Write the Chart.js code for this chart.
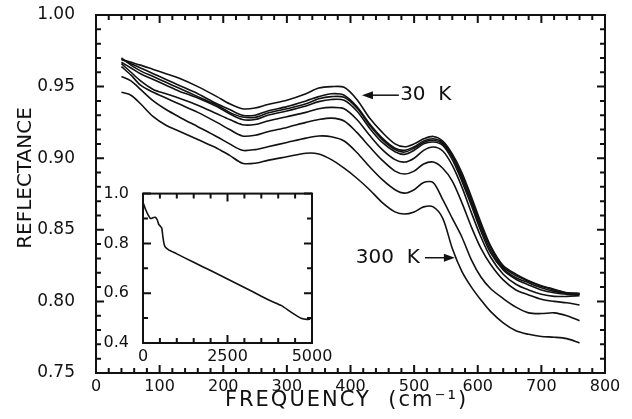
<!DOCTYPE html>
<html>
<head>
<meta charset="utf-8">
<script src="https://cdn.jsdelivr.net/npm/chart.js@4.4.1/dist/chart.umd.min.js"></script>
<style>
  html, body { margin: 0; padding: 0; background: #fff; }
  #wrap { position: relative; width: 632px; height: 419px; }
  #main { position: absolute; left: 0; top: 0; }
  #inset { position: absolute; left: 98px; top: 178px; }
</style>
</head>
<body>
<div id="wrap">
  <canvas id="main" width="632" height="419"></canvas>
  <canvas id="inset" width="236" height="195"></canvas>
</div>
<script>
const ink = "#111";
const fam = "'DejaVu Sans', sans-serif";

// main panel: frequency (cm-1) and reflectance, one array per temperature, top to bottom
const freq = [40, 55, 70, 90, 110, 130, 160, 190, 210, 230, 250, 270, 300, 330, 350, 370, 390, 410, 430, 450,
              470, 485, 500, 515, 530, 545, 560, 575, 590, 605, 620, 640, 660, 680, 700, 720, 740, 760];
const r30 = [.969, .967, .965, .962, .959, .956, .950, .943, .938, .9345, .935, .9375, .9405, .945, .949, .950, .9495, .941, .928, .918,
             .910, .908, .910, .9135, .9152, .912, .903, .890, .873, .855, .839, .825, .819, .8145, .811, .8085, .806, .8055];
const r50 = [.969, .966, .963, .959, .955, .951, .945, .938, .934, .930, .930, .933, .936, .940, .943, .945, .944, .936, .924, .914,
             .907, .9055, .908, .912, .9136, .911, .902, .888, .871, .853, .838, .824, .818, .814, .8105, .808, .806, .8055];
const r75 = [.970, .965, .961, .957, .953, .949, .943, .937, .932, .9288, .9285, .9315, .9345, .938, .9415, .943, .9425, .935, .923, .913,
             .906, .9043, .907, .911, .9125, .910, .901, .886, .869, .851, .836, .823, .8165, .813, .8095, .807, .8055, .805];
const r100 = [.967, .963, .959, .955, .951, .947, .942, .936, .931, .927, .927, .930, .933, .9365, .9395, .941, .9405, .933, .921, .911,
              .9045, .9027, .9055, .910, .9113, .909, .899, .884, .867, .849, .834, .822, .8155, .8115, .808, .806, .805, .805];
const r150 = [.966, .960, .954, .948, .945, .942, .937, .931, .927, .9234, .9235, .926, .929, .932, .9345, .9355, .9345, .927, .916, .906,
              .899, .8973, .900, .9055, .9078, .905, .895, .880, .862, .845, .831, .819, .812, .808, .805, .8035, .8035, .804];
const r200 = [.964, .958, .951, .946, .942, .938, .932, .925, .920, .9155, .916, .9185, .9215, .925, .927, .928, .926, .918, .908, .8985,
              .891, .889, .891, .896, .8973, .893, .884, .869, .852, .837, .826, .815, .808, .8045, .8015, .800, .799, .7975];
const r250 = [.957, .954, .948, .940, .934, .929, .922, .915, .910, .9055, .906, .908, .911, .914, .9155, .915, .912, .904, .894, .885,
              .878, .8756, .878, .883, .883, .871, .858, .845, .829, .817, .809, .802, .796, .792, .7915, .792, .790, .7865];
const r300 = [.946, .944, .938, .929, .923, .919, .913, .907, .902, .8965, .8965, .8985, .901, .9035, .903, .899, .893, .886, .878, .869,
              .8625, .861, .8625, .866, .866, .858, .837, .821, .810, .801, .793, .785, .7795, .777, .7755, .775, .774, .771];
const curves = [r30, r50, r75, r100, r150, r200, r250, r300];
const curveNames = ["30 K", "50 K", "75 K", "100 K", "150 K", "200 K", "250 K", "300 K"];

// inset: wide range spectrum
const insetFreq = [0, 40, 80, 150, 220, 300, 360, 420, 470, 520, 555, 590, 620, 650, 700, 770,
                   1000, 1500, 2000, 2500, 3000, 3500, 3800, 4100, 4400, 4700, 4850, 4950];
const insetR = [0.965, 0.95, 0.935, 0.915, 0.90, 0.903, 0.905, 0.895, 0.875, 0.868, 0.862, 0.825, 0.80, 0.787, 0.78, 0.773,
                0.758, 0.724, 0.691, 0.657, 0.623, 0.588, 0.568, 0.55, 0.522, 0.498, 0.495, 0.496];

const toPoints = (xs, ys) => xs.map((x, i) => ({ x: x, y: ys[i] }));
const isMult = (v, step) => Math.abs(v / step - Math.round(v / step)) < 1e-6;

// box frame with inward ticks on all four sides
const frameTicks = {
  id: "frameTicks",
  afterDatasetsDraw(chart, args, o) {
    const { ctx, chartArea: a, scales: { x, y } } = chart;
    ctx.save();
    ctx.strokeStyle = ink;
    ctx.lineWidth = o.width;
    ctx.strokeRect(a.left, a.top, a.right - a.left, a.bottom - a.top);
    ctx.beginPath();
    let n = Math.round((x.max - x.min) / o.xMinor);
    for (let i = 0; i <= n; i++) {
      const v = x.min + i * o.xMinor;
      const px = x.getPixelForValue(v);
      const len = isMult(v, o.xMajor) ? o.major : o.minor;
      ctx.moveTo(px, a.bottom); ctx.lineTo(px, a.bottom - len);
      ctx.moveTo(px, a.top); ctx.lineTo(px, a.top + len);
    }
    n = Math.round((y.max - y.min) / o.yMinor);
    for (let i = 0; i <= n; i++) {
      const v = y.min + i * o.yMinor;
      const py = y.getPixelForValue(v);
      const len = isMult(v, o.yMajor) ? o.major : o.minor;
      ctx.moveTo(a.left, py); ctx.lineTo(a.left + len, py);
      ctx.moveTo(a.right, py); ctx.lineTo(a.right - len, py);
    }
    ctx.stroke();
    ctx.restore();
  }
};

// axis titles drawn by hand so the letters can be spread like the original
const axisTitles = {
  id: "axisTitles",
  afterDraw(chart) {
    const { ctx, chartArea: a } = chart;
    ctx.save();
    ctx.fillStyle = ink;
    ctx.textAlign = "center";
    ctx.textBaseline = "middle";
    ctx.font = "21px " + fam;
    ctx.letterSpacing = "2px";
    ctx.fillText("FREQUENCY  (cm⁻¹)", (a.left + a.right) / 2 - 4, a.bottom + 28);
    ctx.font = "20px " + fam;
    ctx.letterSpacing = "0px";
    ctx.translate(26, a.top + 163);
    ctx.rotate(-Math.PI / 2);
    ctx.fillText("REFLECTANCE", 0, 0);
    ctx.restore();
  }
};

// the "30 K" and "300 K" arrows
const notes = [
  { text: "30  K", at: 478, tail: 476, tip: 418, y: 0.944, align: "left" },
  { text: "300  K", at: 509, tail: 517, tip: 564, y: 0.8305, align: "right" }
];
const arrowNotes = {
  id: "arrowNotes",
  afterDatasetsDraw(chart) {
    const { ctx, scales: { x, y } } = chart;
    ctx.save();
    ctx.fillStyle = ink;
    ctx.strokeStyle = ink;
    ctx.lineWidth = 1.5;
    ctx.font = "20px " + fam;
    ctx.textBaseline = "middle";
    notes.forEach(n => {
      const py = y.getPixelForValue(n.y);
      const x0 = x.getPixelForValue(n.tail);
      const x1 = x.getPixelForValue(n.tip);
      const dir = Math.sign(x1 - x0);
      ctx.textAlign = n.align;
      ctx.fillText(n.text, x.getPixelForValue(n.at), py);
      ctx.beginPath();
      ctx.moveTo(x0, py);
      ctx.lineTo(x1 - dir * 8, py);
      ctx.stroke();
      ctx.beginPath();
      ctx.moveTo(x1, py);
      ctx.lineTo(x1 - dir * 11, py - 4);
      ctx.lineTo(x1 - dir * 11, py + 4);
      ctx.closePath();
      ctx.fill();
    });
    ctx.restore();
  }
};

new Chart(document.getElementById("main"), {
  type: "line",
  plugins: [frameTicks, arrowNotes, axisTitles],
  data: {
    datasets: curves.map((ys, i) => ({
      label: curveNames[i],
      data: toPoints(freq, ys),
      borderColor: ink,
      borderWidth: 1.6,
      pointRadius: 0,
      tension: 0.3,
      fill: false,
    })),
  },
  options: {
    responsive: false,
    animation: false,
    layout: { padding: { left: 0, top: 15, right: 27, bottom: 0 } },
    plugins: {
      legend: { display: false },
      tooltip: { enabled: false },
      frameTicks: { width: 2, major: 8, minor: 5, xMinor: 20, xMajor: 100, yMinor: 0.01, yMajor: 0.05 },
    },
    scales: {
      x: {
        type: "linear",
        min: 0,
        max: 800,
        grid: { display: false },
        border: { display: false },
        ticks: { stepSize: 100, padding: -4, color: ink, font: { family: fam, size: 16 }, callback: v => String(v) },
        afterFit(scale) { scale.height = 46; scale.paddingLeft = 0; scale.paddingRight = 0; },
      },
      y: {
        min: 0.75,
        max: 1.0,
        grid: { display: false },
        border: { display: false },
        ticks: {
          stepSize: 0.05,
          padding: 13,
          color: ink,
          font: { family: fam, size: 17 },
          callback: v => v.toFixed(2),
        },
        afterFit(scale) { scale.width = 96; scale.paddingTop = 0; scale.paddingBottom = 0; },
      },
    },
  },
});

new Chart(document.getElementById("inset"), {
  type: "line",
  plugins: [frameTicks],
  data: {
    datasets: [{
      data: toPoints(insetFreq, insetR),
      borderColor: ink,
      borderWidth: 1.6,
      pointRadius: 0,
      tension: 0.2,
      fill: false,
    }],
  },
  options: {
    responsive: false,
    animation: false,
    layout: { padding: { left: 0, top: 12, right: 22, bottom: 0 } },
    plugins: {
      legend: { display: false },
      tooltip: { enabled: false },
      frameTicks: { width: 2, major: 8, minor: 5, xMinor: 500, xMajor: 2500, yMinor: 0.1, yMajor: 0.2 },
    },
    scales: {
      x: {
        type: "linear",
        min: 0,
        max: 5000,
        grid: { display: false },
        border: { display: false },
        ticks: { stepSize: 2500, padding: -4, color: ink, font: { family: fam, size: 16 }, callback: v => String(v) },
        afterFit(scale) { scale.height = 30; },
      },
      y: {
        min: 0.4,
        max: 1.0,
        grid: { display: false },
        border: { display: false },
        ticks: {
          stepSize: 0.2,
          padding: 6,
          color: ink,
          font: { family: fam, size: 16 },
          callback: v => v.toFixed(1),
        },
        afterFit(scale) { scale.width = 45; },
      },
    },
  },
});
</script>
</body>
</html>
